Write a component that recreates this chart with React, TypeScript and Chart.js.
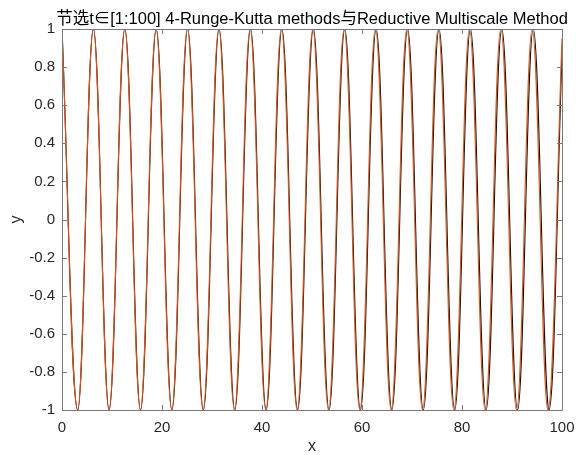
import React, { useEffect, useRef } from "react";
import { Chart, registerables } from "chart.js";

Chart.register(...registerables);

const TITLE = "节选t∈[1:100] 4-Runge-Kutta methods与Reductive Multiscale Method";
const X_LABEL = "x";
const Y_LABEL = "y";
const X_TICKS = [0, 20, 40, 60, 80, 100];
const Y_TICKS = [-1, -0.8, -0.6, -0.4, -0.2, 0, 0.2, 0.4, 0.6, 0.8, 1];

// 4-Runge-Kutta (dark) : turning points
const rk4X = [0, 3.14, 6.28, 9.42, 12.57, 15.71, 18.85, 21.99, 25.13, 28.27, 31.42, 34.56, 37.7, 40.84, 43.98, 47.12, 50.27, 53.41, 56.55, 59.69, 62.83, 65.97, 69.12, 72.26, 75.4, 78.54, 81.68, 84.82, 87.96, 91.11, 94.25, 97.39, 100];
const rk4Y = [1, -1, 1, -1, 1, -1, 1, -1, 1, -1, 1, -1, 1, -1, 1, -1, 1, -1, 1, -1, 1, -1, 1, -1, 1, -1, 1, -1, 1, -1, 1, -1, 0.86];

// Reductive Multiscale Method (orange)
const rmmX = [0, 3.13, 6.27, 9.4, 12.54, 15.67, 18.81, 21.94, 25.07, 28.21, 31.35, 34.48, 37.62, 40.75, 43.88, 47.02, 50.16, 53.29, 56.43, 59.56, 62.69, 65.83, 68.97, 72.1, 75.23, 78.37, 81.5, 84.63, 87.77, 90.91, 94.04, 97.18, 100];
const rmmY = [1, -1, 1, -1, 1, -1, 1, -1, 1, -1, 1, -1, 1, -1, 1, -1, 1, -1, 1, -1, 1, -1, 1, -1, 1, -1, 1, -1, 1, -1, 1, -1, 0.95];

const FONT = "'Liberation Sans', Arial, 'Noto Sans CJK SC', sans-serif";
const TEXT = "#262626";
const BOX = "#7a7a7a";

const fmt = (v: number) => {
  const r = Math.round(v * 10) / 10;
  return r === 0 ? "0" : String(r);
};

const decorPlugin = {
  id: "matlabDecor",
  afterDatasetsDraw(chart: any) {
    const { ctx, chartArea: a, scales } = chart;
    const xs = scales.x;
    const ys = scales.y;
    ctx.save();
    ctx.strokeStyle = BOX;
    ctx.lineWidth = 1;
    ctx.beginPath();
    ctx.rect(Math.round(a.left) + 0.5, Math.round(a.top) + 0.5, Math.round(a.right - a.left), Math.round(a.bottom - a.top));
    ctx.stroke();
    const tl = 5;
    ctx.beginPath();
    X_TICKS.forEach((v) => {
      const px = Math.round(xs.getPixelForValue(v)) + 0.5;
      ctx.moveTo(px, a.bottom);
      ctx.lineTo(px, a.bottom - tl);
      ctx.moveTo(px, a.top);
      ctx.lineTo(px, a.top + tl);
    });
    Y_TICKS.forEach((v) => {
      const py = Math.round(ys.getPixelForValue(v)) + 0.5;
      ctx.moveTo(a.left, py);
      ctx.lineTo(a.left + tl, py);
      ctx.moveTo(a.right, py);
      ctx.lineTo(a.right - tl, py);
    });
    ctx.stroke();

    ctx.fillStyle = "#000";
    ctx.font = `16.5px ${FONT}`;
    ctx.textAlign = "center";
    ctx.textBaseline = "alphabetic";
    ctx.fillText(TITLE, (a.left + a.right) / 2, 24);

    ctx.fillStyle = TEXT;
    ctx.font = `16px ${FONT}`;
    ctx.textBaseline = "middle";
    ctx.fillText(X_LABEL, (a.left + a.right) / 2, 447);
    ctx.translate(17, (a.top + a.bottom) / 2);
    ctx.rotate(-Math.PI / 2);
    ctx.fillText(Y_LABEL, 0, 0);
    ctx.restore();
  },
};

export default function App() {
  const ref = useRef<HTMLCanvasElement | null>(null);
  useEffect(() => {
    if (!ref.current) return;
    const chart = new Chart(ref.current, {
      type: "line",
      data: {
        datasets: [
          {
            label: "Reductive Multiscale Method",
            data: rmmX.map((x, i) => ({ x, y: rmmY[i] })),
            borderColor: "#D95319",
            borderWidth: 1.1,
            pointRadius: 0,
            tension: 0.4,
            fill: false,
            order: 1,
          },
          {
            label: "4-Runge-Kutta",
            data: rk4X.map((x, i) => ({ x, y: rk4Y[i] })),
            borderColor: "#111111",
            borderWidth: 1.1,
            pointRadius: 0,
            tension: 0.4,
            fill: false,
            order: 2,
          },
        ],
      },
      options: {
        animation: false,
        responsive: false,
        maintainAspectRatio: false,
        layout: { padding: { left: 0, right: 14, top: 29, bottom: 0 } },
        plugins: { legend: { display: false }, tooltip: { enabled: false }, title: { display: false } },
        scales: {
          x: {
            type: "linear",
            min: 0,
            max: 100,
            grid: { display: false, drawTicks: false },
            border: { display: false },
            afterBuildTicks: (s: any) => {
              s.ticks = X_TICKS.map((v) => ({ value: v }));
            },
            afterFit: (s: any) => {
              s.height = 45;
              s.paddingLeft = 0;
              s.paddingRight = 0;
            },
            ticks: {
              autoSkip: false,
              maxRotation: 0,
              padding: 9,
              color: TEXT,
              font: { family: FONT, size: 15 },
              callback: (v: any) => String(v),
            },
          },
          y: {
            type: "linear",
            min: -1,
            max: 1,
            grid: { display: false, drawTicks: false },
            border: { display: false },
            afterBuildTicks: (s: any) => {
              s.ticks = Y_TICKS.map((v) => ({ value: v }));
            },
            afterFit: (s: any) => {
              s.width = 62;
              s.paddingTop = 0;
              s.paddingBottom = 0;
            },
            ticks: {
              autoSkip: false,
              padding: 7,
              color: TEXT,
              font: { family: FONT, size: 15 },
              callback: (v: any) => fmt(Number(v)),
            },
          },
        },
      },
      plugins: [decorPlugin],
    });
    return () => chart.destroy();
  }, []);
  return (
    <div style={{ position: "absolute", left: 0, top: 0, width: 576, height: 455, background: "#fff" }}>
      <canvas ref={ref} width={576} height={455} style={{ display: "block" }} />
    </div>
  );
}
